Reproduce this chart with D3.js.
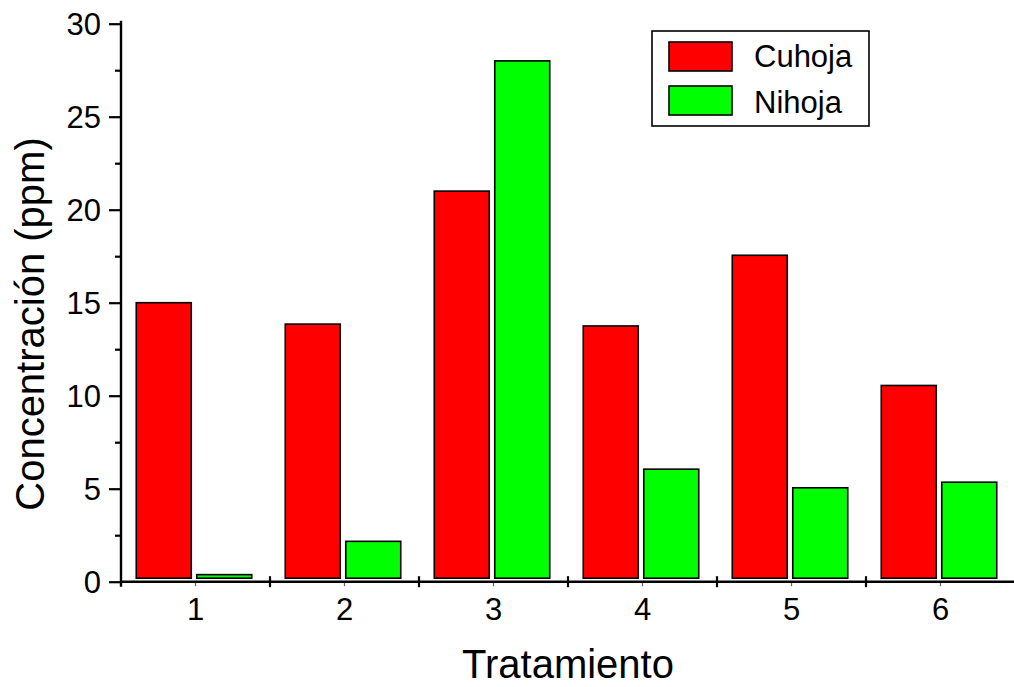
<!DOCTYPE html>
<html>
<head>
<meta charset="utf-8">
<script src="https://cdn.jsdelivr.net/npm/d3@7/dist/d3.min.js"></script>
<style>
  html, body { margin: 0; padding: 0; background: #fff; }
  svg { display: block; }
  text { font-family: "Liberation Sans", Arial, Helvetica, sans-serif; fill: #000; }
</style>
</head>
<body>
<svg id="chart" width="1014" height="687"></svg>
<script>
// ---- data ----
const categories = ["1", "2", "3", "4", "5", "6"];
const seriesNames = ["Cuhoja", "Nihoja"];
const cuhoja = [15.0, 13.85, 21.0, 13.75, 17.55, 10.55];
const nihoja = [0.38, 2.17, 28.0, 6.05, 5.05, 5.35];
const yTicks = [0, 5, 10, 15, 20, 25, 30];
const yMinorTicks = [2.5, 7.5, 12.5, 17.5, 22.5, 27.5];
const colors = ["#ff0000", "#00ff00"];
const xTitle = "Tratamiento";
const yTitle = "Concentración (ppm)";

const svg = d3.select("#chart");
const mLeft = 121, mRight = 1015, mTop = 23.7, mBottom = 581.7;

const x = d3.scaleBand().domain(categories).range([mLeft, mRight]).padding(0);
const inner = d3.scaleBand().domain(seriesNames).range([-1.5, x.bandwidth() - 1.5])
  .paddingInner(0.091).paddingOuter(0.277);
const y = d3.scaleLinear().domain([0, 30]).range([mBottom, mTop]);

const seriesData = [cuhoja, nihoja];
const baseGap = 3.5;

// bars
seriesNames.forEach((s, si) => {
  svg.append("g").selectAll("rect")
    .data(categories.map((c, i) => ({ c, v: seriesData[si][i] })))
    .join("rect")
    .attr("x", d => x(d.c) + inner(s))
    .attr("width", inner.bandwidth())
    .attr("y", d => y(d.v))
    .attr("height", d => Math.max(0, y(0) - baseGap - y(d.v)))
    .attr("fill", colors[si])
    .attr("stroke", "#000")
    .attr("stroke-width", 1.6);
});

// y axis
const yAxis = svg.append("g").attr("transform", `translate(${mLeft},0)`)
  .call(d3.axisLeft(y).tickValues(yTicks).tickSize(12).tickPadding(8).tickFormat(d3.format("d")));
yAxis.select(".domain").remove();
yAxis.selectAll(".tick line").attr("stroke", "#000").attr("stroke-width", 2.2);
yAxis.selectAll(".tick text").attr("font-size", 31).attr("dy", "0.35em")
  .style("font-family", '"Liberation Sans", Arial, sans-serif');

const yMinor = svg.append("g").attr("transform", `translate(${mLeft},0)`)
  .call(d3.axisLeft(y).tickValues(yMinorTicks).tickSize(6).tickFormat(""));
yMinor.select(".domain").remove();
yMinor.selectAll(".tick line").attr("stroke", "#000").attr("stroke-width", 2.2);

svg.append("line").attr("x1", mLeft).attr("x2", mLeft)
  .attr("y1", y(30) - 3).attr("y2", y(0) + 5)
  .attr("stroke", "#000").attr("stroke-width", 2.4);

// x axis
svg.append("line").attr("x1", mLeft).attr("x2", mRight)
  .attr("y1", y(0)).attr("y2", y(0))
  .attr("stroke", "#000").attr("stroke-width", 2.4);

const boundaries = categories.slice(1).map(c => x(c));
svg.append("g").selectAll("line")
  .data(boundaries).join("line")
  .attr("x1", d => d).attr("x2", d => d)
  .attr("y1", y(0) - 5.5).attr("y2", y(0) + 5.5)
  .attr("stroke", "#000").attr("stroke-width", 2.2);

svg.append("g").selectAll("line")
  .data(categories).join("line")
  .attr("x1", d => x(d) + x.bandwidth() / 2).attr("x2", d => x(d) + x.bandwidth() / 2)
  .attr("y1", y(0)).attr("y2", y(0) + 4.5)
  .attr("stroke", "#000").attr("stroke-width", 1.2).attr("opacity", 0.6);

svg.append("g").selectAll("text")
  .data(categories).join("text")
  .attr("x", d => x(d) + x.bandwidth() / 2)
  .attr("y", 620)
  .attr("text-anchor", "middle")
  .attr("font-size", 31)
  .text(d => d);

// titles
svg.append("text").attr("x", (mLeft + mRight) / 2).attr("y", 678)
  .attr("text-anchor", "middle").attr("font-size", 40).text(xTitle);
svg.append("text").attr("transform", "translate(44,324) rotate(-90)")
  .attr("text-anchor", "middle").attr("font-size", 40).text(yTitle);

// legend
const lg = svg.append("g");
lg.append("rect").attr("x", 652).attr("y", 31).attr("width", 217).attr("height", 95)
  .attr("fill", "#fff").attr("stroke", "#000").attr("stroke-width", 1.6);
seriesNames.forEach((s, i) => {
  lg.append("rect").attr("x", 669).attr("y", 42 + i * 44).attr("width", 63).attr("height", 29)
    .attr("fill", colors[i]).attr("stroke", "#000").attr("stroke-width", 1.6);
  lg.append("text").attr("x", 754).attr("y", 66.7 + i * 46).attr("font-size", 31).text(s);
});
</script>
</body>
</html>
